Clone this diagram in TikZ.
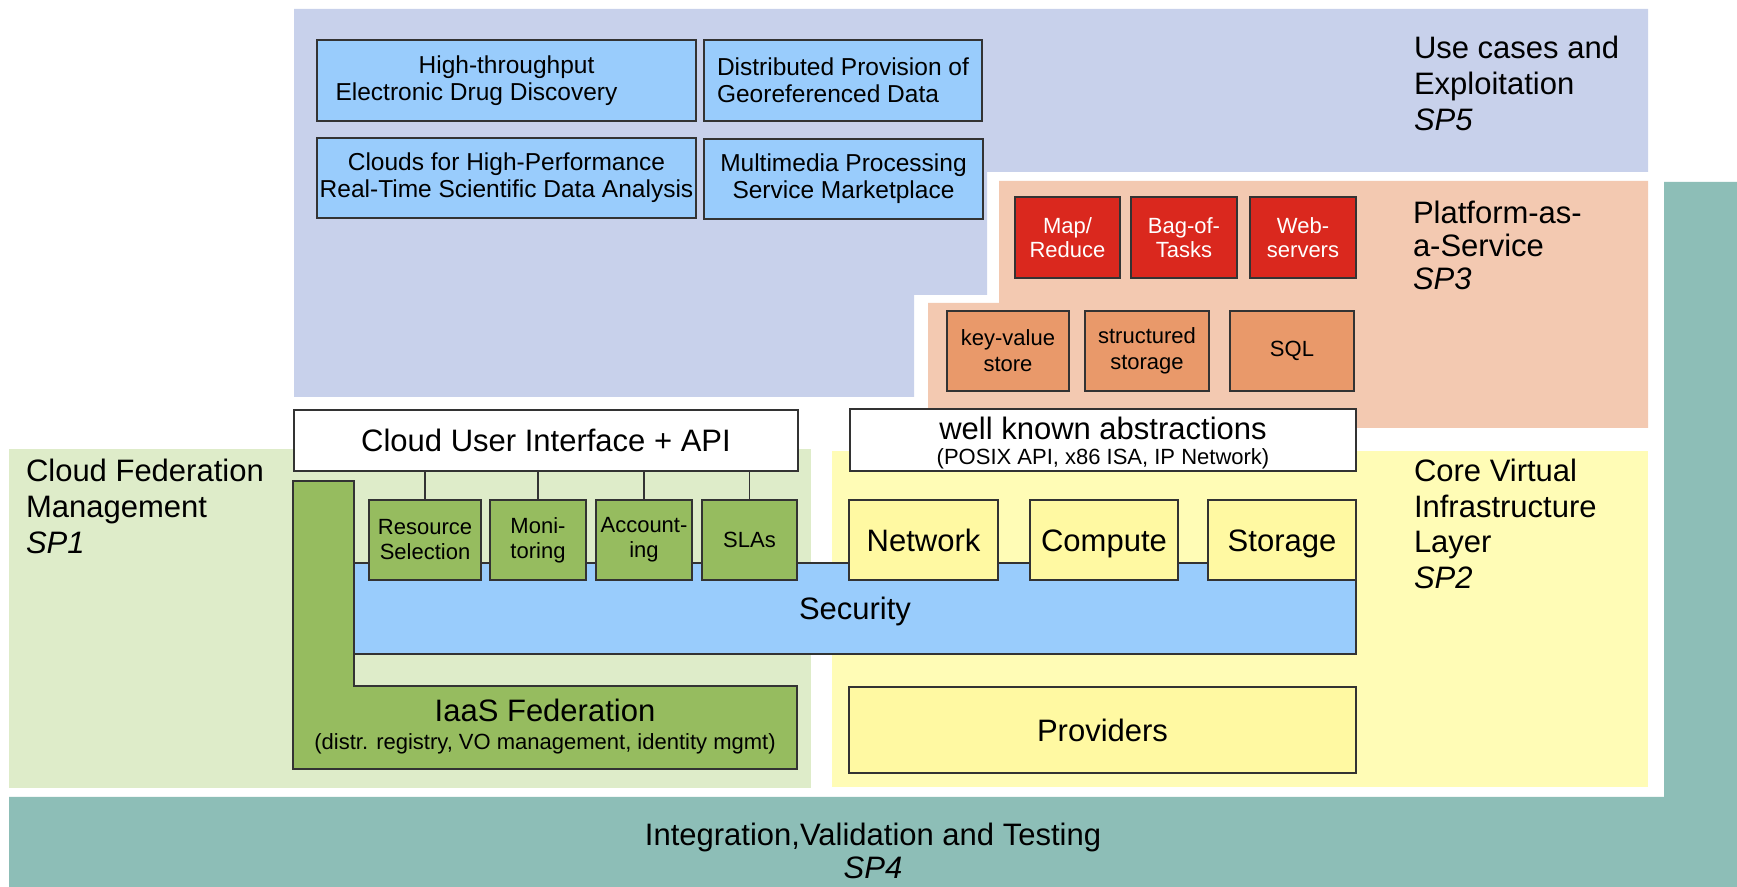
\documentclass[tikz,border=0pt]{standalone}
\usepackage{fontspec}
\setmainfont{Liberation Sans}
\definecolor{regblue}{RGB}{200,209,235}
\definecolor{regsalmon}{RGB}{243,201,177}
\definecolor{regteal}{RGB}{141,190,183}
\definecolor{reggreen}{RGB}{222,236,201}
\definecolor{regyellow}{RGB}{255,252,182}
\definecolor{ucblue}{RGB}{153,204,252}
\definecolor{paasred}{RGB}{218,40,30}
\definecolor{paasorange}{RGB}{233,153,106}
\definecolor{fedgreen}{RGB}{150,188,95}
\definecolor{coreyellow}{RGB}{255,249,162}
\newcommand\myBig{\fontsize{15.5}{18}\selectfont}
\newcommand\myMid{\fontsize{12.25}{13.5}\selectfont}
\newcommand\mySmall{\fontsize{11}{12.5}\selectfont}
\tikzset{
  rect/.style n args={4}{minimum width={(#3-#1)*0.5pt}, minimum height={(#4-#2)*0.5pt}, at={({(#1+#3)/2},{(#2+#4)/2})}},
  box/.style={draw=black!80, line width=0.7pt, inner sep=0pt, outer sep=0pt, align=center},
  ucbox/.style={box, fill=ucblue, font=\myMid},
  redbox/.style={box, fill=paasred, text=white, font=\fontsize{11}{12}\selectfont},
  orbox/.style={box, fill=paasorange, font=\fontsize{11}{13}\selectfont},
  gbox/.style={box, fill=fedgreen, font=\mySmall},
  ybox/.style={box, fill=coreyellow, font=\myBig, text height=11.1pt, text depth=0pt},
  wbox/.style={box, fill=white, font=\myBig},
  secbox/.style={box, fill=ucblue, font=\myBig, text height=11.1pt, text depth=0pt},
  lbl/.style={inner sep=0pt, outer sep=0pt, align=left, anchor=north west},
  conn/.style={draw=black!80, line width=0.7pt},
}
\begin{document}
\begin{tikzpicture}[x=0.5pt,y=-0.5pt]
\useasboundingbox (0,0) rectangle (1737,887);
\fill[white] (0,0) rectangle (1737,887);
% regions
\fill[regblue] (294,9) -- (1648,9) -- (1648,172) -- (987,172) -- (987,295) -- (914,295) -- (914,397) -- (294,397) -- cycle;
\fill[regsalmon] (999,181) -- (1648,181) -- (1648,428) -- (928,428) -- (928,303) -- (999,303) -- cycle;
\fill[regteal] (1664,182) -- (1737,182) -- (1737,887) -- (9,887) -- (9,797) -- (1664,797) -- cycle;
\fill[reggreen] (9,449) rectangle (811,788);
\fill[regyellow] (832,451) rectangle (1648,787);
% region labels
\node[lbl, font=\fontsize{15.5}{18}\selectfont] (sp5) at (1414,36) {Use cases and\\Exploitation\\\textit{SP5}};
\node[lbl, font=\fontsize{15.5}{16.5}\selectfont] (sp3) at (1413,201) {Platform-as-\\a-Service\\\textit{SP3}};
\node[lbl, font=\fontsize{15.5}{17.8}\selectfont] (sp2) at (1414,459) {Core Virtual\\Infrastructure\\Layer\\\textit{SP2}};
\node[lbl, font=\fontsize{15.5}{18}\selectfont] (sp1) at (26,459) {Cloud Federation\\Management\\\textit{SP1}};
\node[inner sep=0pt, align=center, anchor=north, font=\fontsize{15.5}{16.5}\selectfont] (sp4) at (873,823) {Integration,Validation and Testing\\\textit{SP4}};
% use cases
\node[ucbox, rect={317}{40}{696}{121}] (uc1) {High-throughput\\Electronic Drug Discovery\rule{30pt}{0pt}};
\node[ucbox, rect={704}{40}{982}{121}, align=left] (uc2) {Distributed Provision of\\Georeferenced Data};
\node[ucbox, rect={317}{138}{696}{218}] (uc3) {Clouds for High-Performance\\Real-Time Scientific Data Analysis};
\node[ucbox, rect={704}{139}{983}{219}] (uc4) {Multimedia Processing\\Service Marketplace};
% PaaS
\node[redbox, rect={1015}{197}{1120}{278}] (mr) {Map/\\Reduce};
\node[redbox, rect={1131}{197}{1237}{278}] (bot) {Bag-of-\\Tasks};
\node[redbox, rect={1250}{197}{1356}{278}] (ws) {Web-\\servers};
\node[orbox, rect={947}{311}{1069}{391}] (kv) {key-value\\store};
\node[orbox, rect={1085}{311}{1209}{391}] (ss) {structured\\storage};
\node[orbox, rect={1230}{311}{1354}{391}] (sql) {SQL};
% federation
\draw[box, fill=fedgreen] (293,481) -- (354,481) -- (354,686) -- (797,686) -- (797,769) -- (293,769) -- cycle;
\node[inner sep=0pt, anchor=base, font=\myBig] (iaas) at (545,722) {IaaS Federation};
\node[inner sep=0pt, anchor=base, font=\mySmall] (iaassub) at (545,749) {(distr. registry, VO management, identity mgmt)};
\node[secbox, rect={354}{563}{1356}{654}] (sec) {Security};
\node[gbox, rect={369}{500}{481}{580}] (rs) {Resource\\Selection};
\node[gbox, rect={490}{500}{586}{580}] (mon) {Moni-\\toring};
\node[gbox, rect={596}{500}{692}{580}] (acc) {Account-\\ing};
\node[gbox, rect={702}{500}{797}{580}] (sla) {SLAs};
% core
\node[ybox, rect={849}{500}{998}{580}] (net) {Network};
\node[ybox, rect={1030}{500}{1178}{580}] (comp) {Compute};
\node[ybox, rect={1208}{500}{1356}{580}] (stor) {Storage};
\node[ybox, rect={849}{687}{1356}{773}] (prov) {Providers};
% interfaces
\node[wbox, rect={294}{410}{798}{471}, text height=11.1pt, text depth=0pt] (cui) {Cloud User Interface + API};
\node[wbox, rect={850}{409}{1356}{471}] (wka) {};
\node[inner sep=0pt, anchor=base, font=\myBig] (wkat) at (1103,440) {well known abstractions};
\node[inner sep=0pt, anchor=base, font=\mySmall] (wkas) at (1103,465) {(POSIX API, x86 ISA, IP Network)};
% connectors
\draw[conn] (rs.north) -- (rs.north |- cui.south);
\draw[conn] (mon.north) -- (mon.north |- cui.south);
\draw[conn] (acc.north) -- (acc.north |- cui.south);
\draw[conn] (sla.north) -- (sla.north |- cui.south);
\end{tikzpicture}
\end{document}
